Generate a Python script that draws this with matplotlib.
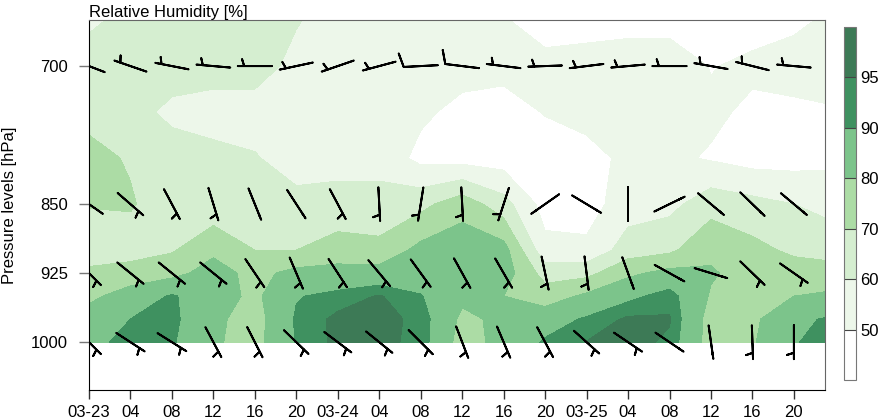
import numpy as np
import matplotlib
matplotlib.use("Agg")
import matplotlib.pyplot as plt

plt.rcParams['font.family'] = ['Liberation Sans', 'DejaVu Sans']

# time axis (hours since 03-23 00) and pressure levels of the RH field
hours = np.arange(0, 76, 4)
levels = [650, 700, 750, 800, 850, 900, 925, 950, 975, 1000]

# relative humidity [%] per pressure level, one value every 4 h
rh_650 = [58, 63, 62, 62, 61, 60.5, 57, 55, 52, 51, 50.5, 47, 46, 46, 46, 47, 46, 48, 52]
rh_700 = [65, 65, 64, 63, 63, 58, 56, 55, 55, 54, 53, 52, 54, 56, 56, 49.5, 52, 54, 56]
rh_750 = [67, 63, 58, 57, 57, 56, 55, 54, 52, 47, 46, 50.5, 53, 55, 54, 52, 48, 48, 49]
rh_800 = [73, 69, 64, 62, 60.5, 57, 56, 57, 47, 46, 45, 45, 47, 52, 52, 49, 46, 46, 48]
rh_850 = [70.5, 71, 64, 63, 65, 62, 64, 63, 67, 76, 64, 46, 46, 55, 57, 66, 63, 60, 56]
rh_900 = [65, 65, 69, 78, 70, 70, 74, 73, 83, 86, 84, 53, 52, 65, 68, 78, 73, 68, 66]
rh_925 = [72, 75, 77, 84, 77, 83, 84, 84, 85, 86, 85, 66, 67, 78, 83, 81, 76, 75, 74]
rh_950 = [78, 84, 91, 84, 78, 89.5, 92, 95.5, 90.5, 82, 80, 75, 82, 88, 93, 79, 78, 80, 82]
rh_975 = [84, 90, 92, 82, 76, 91, 96.5, 97, 93.5, 78, 82, 86, 91, 96, 95.5, 76, 78, 88, 91.5]
rh_1000 = [88, 92, 91, 81, 77, 90.5, 96.5, 96.5, 93.5, 76, 83, 91, 95.2, 97, 94, 76, 79, 89.5, 93]

rh = np.array([rh_650, rh_700, rh_750, rh_800, rh_850,
               rh_900, rh_925, rh_950, rh_975, rh_1000])

rh_bounds = [0, 50, 60, 70, 80, 90, 95, 100]
rh_colors = ['#ffffff', '#edf7ea', '#d5eed0', '#acdca5', '#7cc48b', '#3f9160', '#3d7a56']

# wind barbs: direction the wind blows from [deg] and speed class
barb_hours = np.arange(0, 72, 4)
barb_levels = [700, 850, 925, 1000]

dir_700 = [291, 289, 281, 275, 270, 258, 251, 255, 267, 277, 277, 268, 263, 265, 270, 280, 284, 275]
spd_700 = [5, 5, 5, 5, 5, 5, 5, 5, 10, 10, 5, 5, 5, 5, 5, 5, 5, 5]
dir_850 = [305, 131, 152, 163, 158, 147, 152, 177, 189, 177, 198, 235, 121, 180, 64, 130, 134, 130]
spd_850 = [5, 5, 5, 5, 0, 0, 5, 5, 5, 5, 5, 0, 0, 0, 0, 0, 0, 0]
dir_925 = [135, 129, 129, 129, 146, 157, 147, 140, 144, 151, 150, 168, 173, 160, 119, 107, 134, 125]
spd_925 = [5, 5, 5, 5, 5, 5, 5, 5, 5, 5, 5, 5, 5, 0, 0, 0, 5, 5]
dir_1000 = [135, 123, 122, 152, 153, 134, 127, 129, 135, 159, 157, 152, 132, 124, 124, 172, 178, 180]
spd_1000 = [5, 5, 5, 5, 5, 5, 5, 5, 5, 5, 5, 5, 5, 5, 0, 0, 5, 5]

xtick_labels = ['03-23', '04', '08', '12', '16', '20',
                '03-24', '04', '08', '12', '16', '20',
                '03-25', '04', '08', '12', '16', '20']

fig = plt.figure(figsize=(8.8, 4.18), dpi=100)
ax = fig.add_axes([0.1011, 0.067, 0.8364, 0.885])

cs = ax.contourf(hours, levels, rh, levels=rh_bounds, colors=rh_colors)

# split barbs into feathered ones and bare staffs
bx, by, bu, bv = [], [], [], []
sx, sy, su, sv = [], [], [], []
for p, dirs, spds in zip(barb_levels, [dir_700, dir_850, dir_925, dir_1000],
                         [spd_700, spd_850, spd_925, spd_1000]):
    for h, d, s in zip(barb_hours, dirs, spds):
        r = np.radians(d)
        if s > 0:
            bx.append(h); by.append(p)
            bu.append(-s * np.sin(r)); bv.append(-s * np.cos(r))
        else:
            sx.append(h); sy.append(p)
            su.append(-5 * np.sin(r)); sv.append(-5 * np.cos(r))

ax.barbs(bx, by, bu, bv, pivot='middle', length=7, linewidth=1.4, color='black')
ax.barbs(sx, sy, su, sv, pivot='middle', length=7, linewidth=1.4, color='black',
         sizes=dict(height=0))

ax.set_xlim(0, 71)
ax.set_ylim(1052, 650)
ax.set_yticks([700, 850, 925, 1000])
ax.set_xticks(barb_hours)
ax.set_xticklabels(xtick_labels)
ax.tick_params(axis='y', direction='out', length=7.2, width=1, color='#777777',
               labelsize=12, pad=8)
ax.tick_params(axis='x', direction='out', length=6.5, width=1, color='#333333',
               labelsize=12, pad=4)
for side in ['top', 'right']:
    ax.spines[side].set_color('#666666')
for side in ['left', 'bottom']:
    ax.spines[side].set_color('black')

ax.set_title('Relative Humidity [%]', loc='left', fontsize=12, pad=2)
ax.set_ylabel('Pressure levels [hPa]', fontsize=12)
ax.yaxis.set_label_coords(-0.098, 0.5)

cax = fig.add_axes([0.959, 0.0909, 0.0136, 0.8445])
cb = fig.colorbar(cs, cax=cax, ticks=[50, 60, 70, 80, 90, 95], drawedges=True)
cb.ax.tick_params(length=0, labelsize=12, pad=3)
cb.outline.set_edgecolor('#777777')
cb.dividers.set_color('#444444')
cb.dividers.set_linewidth(0.8)

fig.savefig('out.png', dpi=100)
